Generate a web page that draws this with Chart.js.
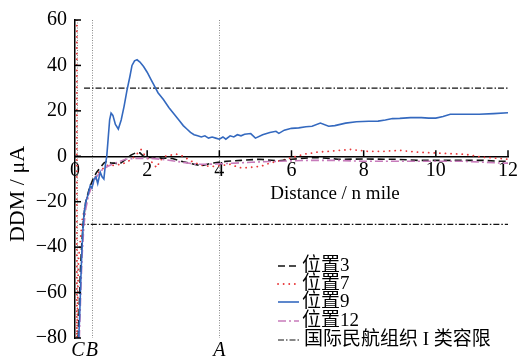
<!DOCTYPE html>
<html><head><meta charset="utf-8">
<script src="https://cdn.jsdelivr.net/npm/chart.js@4/dist/chart.umd.min.js"></script>
<style>html,body{margin:0;padding:0;background:#fff;}</style>
</head><body>
<canvas id="c" width="524" height="362"></canvas>
<script>
// ---- data ----
const seriesLabels = ['位置3', '位置7', '位置9', '位置12', '国际民航组织 I 类容限'];
const pos3 = [[0.09,-80],[0.12,-65],[0.15,-50],[0.19,-38],[0.24,-27],[0.3,-20],[0.4,-14],[0.5,-10],[0.6,-7],[0.7,-5],[0.8,-3],[0.9,-2],[1.0,-3],[1.1,-3],[1.22,-3.5],[1.35,-2],[1.44,-1],[1.55,0.5],[1.68,1.5],[1.8,1.5],[1.9,0],[2.0,-0.5],[2.2,-0.5],[2.4,-0.8],[2.7,-1],[2.9,-2],[3.16,-3],[3.5,-4.2],[3.8,-3],[4.2,-2.2],[4.6,-1.8],[5.1,-1.3],[5.65,-2],[6.0,-1.3],[6.7,-0.5],[7.3,-1.3],[8.0,-1.2],[8.56,-1.3],[8.9,-1.3],[9.5,-1.8],[10.4,-1.8],[11.3,-1.8],[11.8,-2.2],[12,-2.2]];
const pos7 = [[0.05,60],[0.05,-80],[0.1,-45],[0.2,-28],[0.3,-20],[0.4,-15],[0.47,-12],[0.6,-8],[0.75,-5.7],[0.9,-4],[1.05,-4],[1.3,-3.5],[1.58,-1.3],[1.83,3],[1.95,0],[2.1,-2],[2.2,-4],[2.27,-5],[2.35,-2],[2.5,0],[2.8,1],[3.0,0],[3.2,-2],[3.5,-4],[3.8,-4.5],[4.1,-4],[4.3,-3.5],[4.55,-5],[4.8,-5],[5.15,-4.4],[5.4,-3],[5.8,-1.5],[6.35,0.9],[6.7,1.8],[7.2,2.4],[7.65,3],[8.1,2.2],[8.56,2.2],[9.0,2.6],[9.5,1.8],[10.2,1.3],[10.8,0.9],[11.3,-0.4],[11.75,-0.9],[12,-1.3]];
const pos9 = [[0.1,-81],[0.13,-70],[0.16,-55],[0.19,-42],[0.22,-32],[0.25,-25],[0.3,-20],[0.36,-17],[0.42,-13],[0.47,-14],[0.53,-10],[0.58,-9],[0.63,-12],[0.7,-7],[0.75,-9],[0.8,-10],[0.84,-4],[0.88,0],[0.92,8],[0.96,16],[1.0,19],[1.05,18],[1.12,14],[1.2,12],[1.28,16],[1.36,22],[1.44,29],[1.52,35],[1.58,40],[1.65,42],[1.72,42.5],[1.8,41.5],[1.9,39.5],[2.0,37],[2.1,34],[2.2,31],[2.3,28],[2.45,25],[2.6,21.5],[2.75,18.5],[2.9,15.5],[3.0,13.5],[3.1,12],[3.2,10.5],[3.3,9.5],[3.4,9],[3.5,8.5],[3.6,9],[3.7,8],[3.8,8.5],[3.9,8],[4.0,7.5],[4.1,8.5],[4.18,7.5],[4.3,9],[4.4,8.5],[4.5,9.5],[4.6,9],[4.7,9.7],[4.87,10],[5.0,8],[5.2,9.5],[5.4,10.5],[5.57,11],[5.65,10.1],[5.8,11.5],[6.0,12.3],[6.2,12.5],[6.4,13],[6.57,13.2],[6.8,14.6],[7.03,13.2],[7.2,13.5],[7.5,14.6],[7.8,15.2],[8.14,15.4],[8.4,15.5],[8.6,16],[8.8,16.6],[9.0,16.7],[9.3,17],[9.6,17],[9.8,16.8],[10.0,16.8],[10.2,17.5],[10.4,18.5],[10.8,18.5],[11.2,18.5],[11.6,18.8],[12.0,19.2]];
const pos12 = [[0.12,-80],[0.14,-70],[0.17,-55],[0.2,-43],[0.25,-30],[0.3,-23],[0.38,-17],[0.47,-13],[0.6,-9],[0.75,-6],[0.9,-4.5],[1.03,-3.5],[1.2,-2.5],[1.4,-1.3],[1.68,-0.9],[2.1,-0.9],[2.5,-1.5],[2.8,-2.2],[3.35,-3.5],[3.7,-3.5],[4.45,-3],[4.9,-2.6],[5.65,-2.2],[6.5,-1.8],[7.25,-1.8],[8.0,-2.2],[8.8,-2.2],[9.2,-2.2],[10.8,-2.2],[11.8,-3],[12,-3]];
const tolerance = [[0.25,30],[12,30],[6,null],[0.12,-30],[12,-30]];
const markerNames = ['C', 'B', 'A'];
const markerPos = [0.05, 0.47, 4];
const xTitle = 'Distance / n mile';
const yTitle = 'DDM / μA';

const SERIF = '"Liberation Serif", "Times New Roman", "Noto Sans CJK SC", serif';
const toXY = a => a.map(p => ({x: p[0], y: p[1]}));

const datasets = [
  {label: seriesLabels[0], data: toXY(pos3), borderColor: '#111', borderDash: [7,4], borderWidth: 1.6, order: 2},
  {label: seriesLabels[1], data: toXY(pos7), borderColor: '#e8383a', borderDash: [0.1,5.5], borderCapStyle: 'round', borderWidth: 1.8, order: 3},
  {label: seriesLabels[2], data: toXY(pos9), borderColor: '#3469bf', borderDash: [], borderWidth: 1.6, order: 0},
  {label: seriesLabels[3], data: toXY(pos12), borderColor: '#c77bbb', borderDash: [8,3,2,3], borderWidth: 1.6, order: 1},
  {label: seriesLabels[4], data: toXY(tolerance), borderColor: '#111', borderDash: [6,2,1.5,2], borderWidth: 1.2, order: 4, spanGaps: false}
];
datasets.forEach(d => { d.pointRadius = 0; d.fill = false; d.tension = 0; });

const decor = {
  id: 'decor',
  beforeDatasetsDraw(chart) {
    const {ctx, chartArea: a, scales: {x, y}} = chart;
    ctx.save();
    ctx.strokeStyle = '#8a8a8a'; ctx.lineWidth = 1; ctx.setLineDash([1,1.5]);
    markerPos.forEach(v => {
      const px = Math.round(x.getPixelForValue(v)) + 0.5;
      ctx.beginPath(); ctx.moveTo(px, y.getPixelForValue(60)); ctx.lineTo(px, y.getPixelForValue(-80)); ctx.stroke();
    });
    ctx.restore();
  },
  afterDraw(chart) {
    const {ctx, chartArea: a, scales: {x, y}} = chart;
    ctx.save();
    // inward ticks
    ctx.strokeStyle = '#000'; ctx.lineWidth = 1.5; ctx.setLineDash([]);
    const y0 = y.getPixelForValue(0);
    x.ticks.forEach(t => { if (t.value === 0) return; const px = x.getPixelForValue(t.value); ctx.beginPath(); ctx.moveTo(px, y0); ctx.lineTo(px, y0 - 6); ctx.stroke(); });
    y.ticks.forEach(t => { const py = y.getPixelForValue(t.value); ctx.beginPath(); ctx.moveTo(a.left, py); ctx.lineTo(a.left + 6, py); ctx.stroke(); });
    // marker labels
    ctx.fillStyle = '#000'; ctx.font = 'italic 20px ' + SERIF; ctx.textAlign = 'center'; ctx.textBaseline = 'middle';
    markerNames.forEach((n, i) => ctx.fillText(n, x.getPixelForValue(markerPos[i]) + (i === 0 ? 1 : 0), a.bottom + 13));
    // axis titles
    ctx.font = '19px ' + SERIF;
    ctx.fillText(xTitle, 335, y0 + 38);
    ctx.save(); ctx.translate(18, 194); ctx.rotate(-Math.PI / 2); ctx.font = '22px ' + SERIF; ctx.fillText(yTitle, 0, 0); ctx.restore();
    // legend
    const rowsY = [266, 284, 302, 321, 340];
    ctx.textAlign = 'left'; ctx.font = '19px ' + SERIF;
    chart.data.datasets.forEach((d, i) => {
      const ly = rowsY[i];
      ctx.strokeStyle = d.borderColor; ctx.lineWidth = d.borderWidth; ctx.setLineDash(d.borderDash || []);
      ctx.lineCap = d.borderCapStyle || 'butt';
      ctx.beginPath(); ctx.moveTo(278, ly); ctx.lineTo(299, ly); ctx.stroke();
      ctx.lineCap = 'butt';
      ctx.fillStyle = '#000';
      ctx.fillText(d.label, i === 4 ? 304 : 302, ly);
    });
    ctx.restore();
  }
};

new Chart(document.getElementById('c').getContext('2d'), {
  type: 'line',
  data: {datasets},
  options: {
    responsive: false, animation: false,
    layout: {padding: {left: 0, top: 19, right: 16, bottom: 24}},
    plugins: {legend: {display: false}, tooltip: {enabled: false}},
    scales: {
      x: {type: 'linear', min: 0, max: 12, position: {y: 0},
          ticks: {stepSize: 2, font: {family: SERIF, size: 20}, color: '#000', padding: 2, maxRotation: 0, autoSkip: false},
          grid: {drawOnChartArea: false, drawTicks: false},
          border: {color: '#000', width: 1.5}},
      y: {type: 'linear', min: -80, max: 60,
          ticks: {stepSize: 20, font: {family: SERIF, size: 20}, color: '#000', padding: 8,
                  callback: v => String(v).replace('-', '\u2212')},
          grid: {drawOnChartArea: false, drawTicks: false},
          border: {color: '#000', width: 1.5},
          afterFit: s => { s.width = 75; }}
    }
  },
  plugins: [decor]
});
</script>
</body></html>
